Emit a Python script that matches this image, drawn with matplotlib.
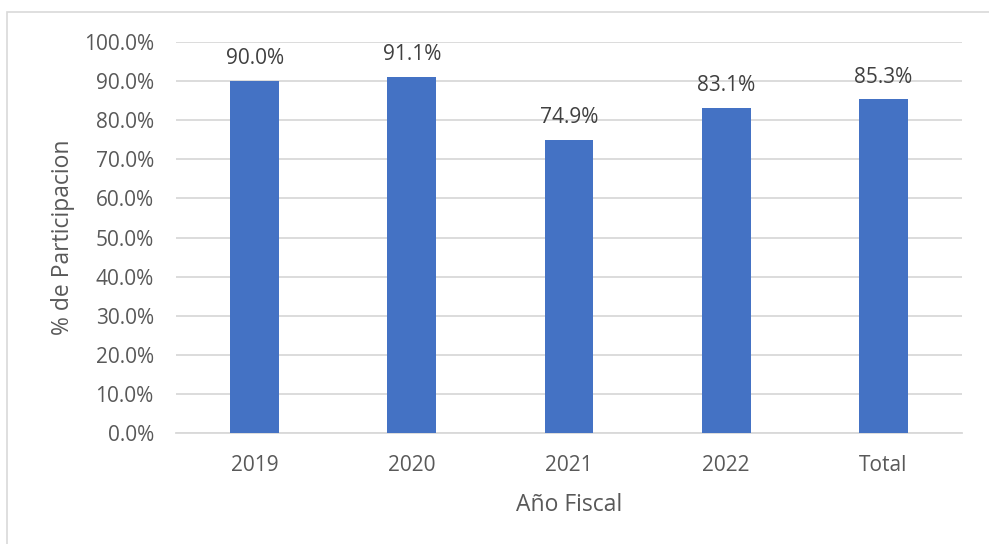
import matplotlib.pyplot as plt
from matplotlib.patches import Rectangle
from matplotlib.ticker import FuncFormatter, MultipleLocator

plt.rcParams['font.family'] = ['Open Sans', 'DejaVu Sans']

# datos
years = ['2019', '2020', '2021', '2022', 'Total']
participacion = [90.0, 91.1, 74.9, 83.1, 85.3]

txt_color = '#595959'
bar_color = '#4472C4'
grid_color = '#D9D9D9'

fig = plt.figure(figsize=(9.89, 5.44), dpi=100)
ax = fig.add_axes([176 / 989, 1 - 433 / 544, 786 / 989, 391 / 544])

# marco exterior
fig.patches.append(Rectangle((7 / 989, -0.1), 1.1, 1 - 12 / 544 + 0.1,
                             transform=fig.transFigure, fill=False,
                             edgecolor='#D9D9D9', linewidth=1.2))

x = range(len(years))
bars = ax.bar(x, participacion, width=0.31, color=bar_color, zorder=3)
for xi, v in zip(x, participacion):
    ax.text(xi, v + 3.0, f'{v:.1f}%', ha='center', va='bottom',
            fontsize=15, color='#404040')

ax.set_xlim(-0.5, len(years) - 0.5)
ax.set_ylim(0, 100)
ax.yaxis.set_major_locator(MultipleLocator(10))
ax.yaxis.set_major_formatter(FuncFormatter(lambda v, p: f'{v:.1f}%'))
ax.set_xticks(list(x))
ax.set_xticklabels(years)
ax.grid(axis='y', color=grid_color, linewidth=1.3, zorder=0)
ax.tick_params(length=0, labelsize=15, labelcolor=txt_color)
ax.tick_params(axis='y', pad=16)
ax.tick_params(axis='x', pad=16)
for s in ['top', 'right', 'left']:
    ax.spines[s].set_visible(False)
ax.spines['bottom'].set_color(grid_color)
ax.spines['bottom'].set_linewidth(1.3)

ax.set_xlabel('Año Fiscal', fontsize=16.5, color=txt_color, labelpad=12)
ax.set_ylabel('% de Participacion', fontsize=16.5, color=txt_color, labelpad=6)

fig.savefig('out.png', dpi=100)
